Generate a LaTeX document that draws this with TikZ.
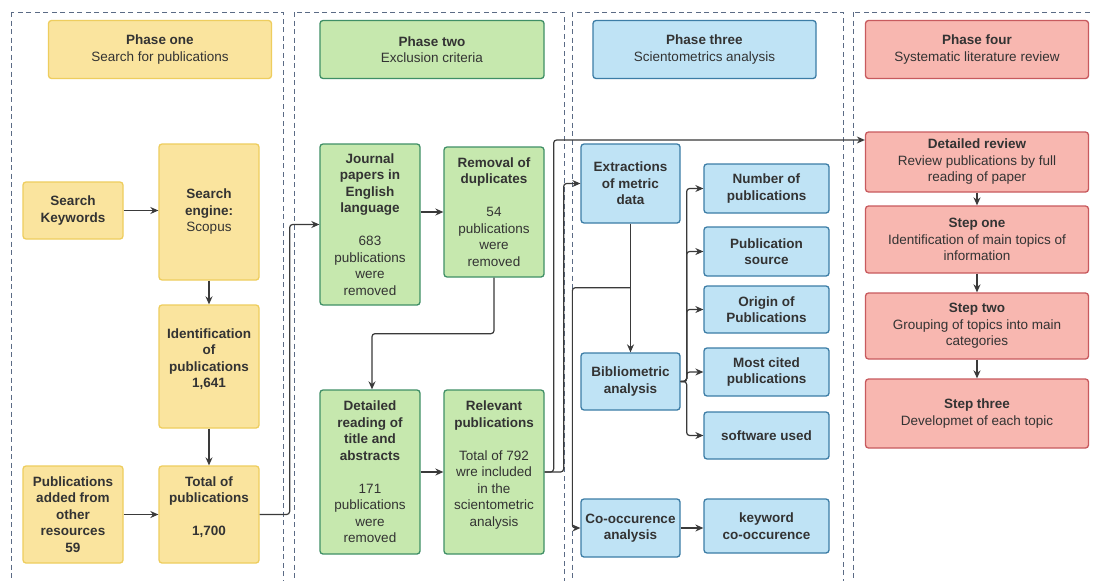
\documentclass[tikz,border=0pt]{standalone}
\usepackage{fontspec}
\setmainfont{Liberation Sans}
\usepackage{xcolor}
\usepackage{tikz}
\usetikzlibrary{arrows.meta}
\definecolor{yfill}{HTML}{FAE49E}
\definecolor{yline}{HTML}{EECD5E}
\definecolor{gfill}{HTML}{C6E8AE}
\definecolor{gline}{HTML}{3F8F66}
\definecolor{bfill}{HTML}{BFE3F5}
\definecolor{bline}{HTML}{3C7DA6}
\definecolor{rfill}{HTML}{F8B7B0}
\definecolor{rline}{HTML}{C85A5E}
\definecolor{txt}{HTML}{333333}
\definecolor{framec}{HTML}{5B6B85}
\definecolor{linec}{HTML}{3A3A3A}
\tikzset{
    box/.style = {align=center, inner sep=2pt, rounded corners=3pt, line width=1.3pt, text=txt, font=\fontsize{13.5}{16.5}\selectfont},
    yellow_box/.style = {box, draw=yline, fill=yfill, minimum width=100pt},
    green_box/.style = {box, draw=gline, fill=gfill, minimum width=100pt},
    blue_box/.style = {box, draw=bline, fill=bfill, minimum width=99pt},
    blue_item/.style = {box, draw=bline, fill=bfill, minimum width=125pt},
    red_box/.style = {box, draw=rline, fill=rfill, minimum width=223pt},
    frame/.style = {draw=framec, line width=0.9pt, dash pattern=on 5pt off 3.5pt},
    conn/.style = {-{Stealth[length=8pt,width=7pt]}, draw=linec, line width=1.2pt, rounded corners=3pt}
}
\begin{document}
\begin{tikzpicture}[x=1pt, y=-1pt]
    \useasboundingbox[fill=white] (0,0) rectangle (1093,581);
    \draw[frame] (11,12) rectangle (283,600);
    \draw[frame] (294,12) rectangle (564,600);
    \draw[frame] (572,12) rectangle (843,600);
    \draw[frame] (853,12) rectangle (1110,600);
    % phase headers
    \node[yellow_box, minimum width=223pt, minimum height=58pt] (phase_one) at (160,49.5) {\textbf{Phase one}\\Search for publications};
    \node[green_box, minimum width=224pt, minimum height=58pt] (phase_two) at (432,49.5) {\textbf{Phase two}\\Exclusion criteria};
    \node[blue_box, minimum width=223pt, minimum height=58pt] (phase_three) at (704.5,49.5) {\textbf{Phase three}\\Scientometrics analysis};
    \node[red_box, minimum height=58pt] (phase_four) at (977,49.5) {\textbf{Phase four}\\Systematic literature review};
    % phase one
    \node[yellow_box, minimum height=57pt] (keywords) at (73,210.5) {\textbf{Search}\\\textbf{Keywords}};
    \node[yellow_box, minimum height=136pt] (engine) at (209,212) {\textbf{Search}\\\textbf{engine:}\\Scopus};
    \node[yellow_box, minimum height=123pt] (ident) at (209,366.5) {\textbf{Identification}\\\textbf{of}\\\textbf{publications}\\\textbf{1,641}\\\mbox{}};
    \node[yellow_box, minimum height=97pt] (added) at (73,514.5) {\textbf{Publications}\\\textbf{added from}\\\textbf{other}\\\textbf{resources}\\\textbf{59}};
    \node[yellow_box, minimum height=97pt] (total) at (209,514.5) {\textbf{Total of}\\\textbf{publications}\\[16.5pt]\textbf{1,700}\\\mbox{}};
    % phase two
    \node[green_box, minimum height=161pt] (journal) at (370,224.5) {\textbf{Journal}\\\textbf{papers in}\\\textbf{English}\\\textbf{language}\\[16.5pt]683\\publications\\were\\removed};
    \node[green_box, minimum height=130pt] (removal) at (494,212) {\textbf{Removal of}\\\textbf{duplicates}\\[16.5pt]54\\publications\\were\\removed};
    \node[green_box, minimum height=164pt] (reading) at (370,472) {\textbf{Detailed}\\\textbf{reading of}\\\textbf{title and}\\\textbf{abstracts}\\[16.5pt]171\\publications\\were\\removed};
    \node[green_box, minimum height=164pt] (relevant) at (494,472) {\textbf{Relevant}\\\textbf{publications}\\[16.5pt]Total of 792\\wre included\\in the\\scientometric\\analysis\\\mbox{}};
    % phase three
    \node[blue_box, minimum height=79pt] (extract) at (630.5,183.5) {\textbf{Extractions}\\\textbf{of metric}\\\textbf{data}};
    \node[blue_box, minimum height=57pt] (biblio) at (630.5,381.5) {\textbf{Bibliometric}\\\textbf{analysis}};
    \node[blue_box, minimum height=58pt] (cooc) at (630.5,528) {\textbf{Co-occurence}\\\textbf{analysis}};
    \node[blue_item, minimum height=49pt] (number) at (766.5,188.5) {\textbf{Number of}\\\textbf{publications}};
    \node[blue_item, minimum height=49pt] (source) at (766.5,251.5) {\textbf{Publication}\\\textbf{source}};
    \node[blue_item, minimum height=47pt] (origin) at (766.5,309.5) {\textbf{Origin of}\\\textbf{Publications}};
    \node[blue_item, minimum height=48pt] (cited) at (766.5,372) {\textbf{Most cited}\\\textbf{publications}};
    \node[blue_item, minimum height=47pt] (software) at (766.5,435.5) {\textbf{software used}};
    \node[blue_item, minimum height=54pt] (keyword) at (766.5,526) {\textbf{keyword}\\\textbf{co-occurence}};
    % phase four
    \node[red_box, minimum height=60pt] (review) at (977,162) {\textbf{Detailed review}\\Review publications by full\\reading of paper};
    \node[red_box, minimum height=67pt] (step_one) at (977,239.5) {\textbf{Step one}\\Identification of main topics of\\information};
    \node[red_box, minimum height=66pt] (step_two) at (977,326) {\textbf{Step two}\\Grouping of topics into main\\categories};
    \node[red_box, minimum height=69pt] (step_three) at (977,413.5) {\textbf{Step three}\\Developmet of each topic};
    % connectors
    \draw[conn] (keywords.east) -- (keywords.east -| engine.west);
    \draw[conn] (engine) -- (ident);
    \draw[conn] (ident) -- (total);
    \draw[conn] (added) -- (total);
    \draw[conn] (total.east) -- ++(30,0) |- (journal.west);
    \draw[conn] (journal.east |- removal.west) -- (removal.west);
    \draw[conn] (removal.south) -- ++(0,56) -| ([xshift=2pt]reading.north);
    \draw[conn] (reading) -- (relevant);
    \draw[conn] (relevant.east) -- ++(9,0) |- ([yshift=22pt]review.west);
    \draw[conn] (relevant.east) -- ++(19,0) |- (extract.west);
    \draw[conn] (extract) -- (biblio);
    \draw[conn] ([yshift=-64pt]extract.south) -| ([xshift=-8pt]cooc.west) -- (cooc.west);
    \foreach \item in {number,source,origin,cited,software}
        \draw[conn] (biblio.east) -- ++(6,0) |- (\item.west);
    \draw[conn] (cooc.east) -- (cooc.east -| keyword.west);
    \draw[conn] (review) -- (step_one);
    \draw[conn] (step_one) -- (step_two);
    \draw[conn] (step_two) -- (step_three);
\end{tikzpicture}
\end{document}
